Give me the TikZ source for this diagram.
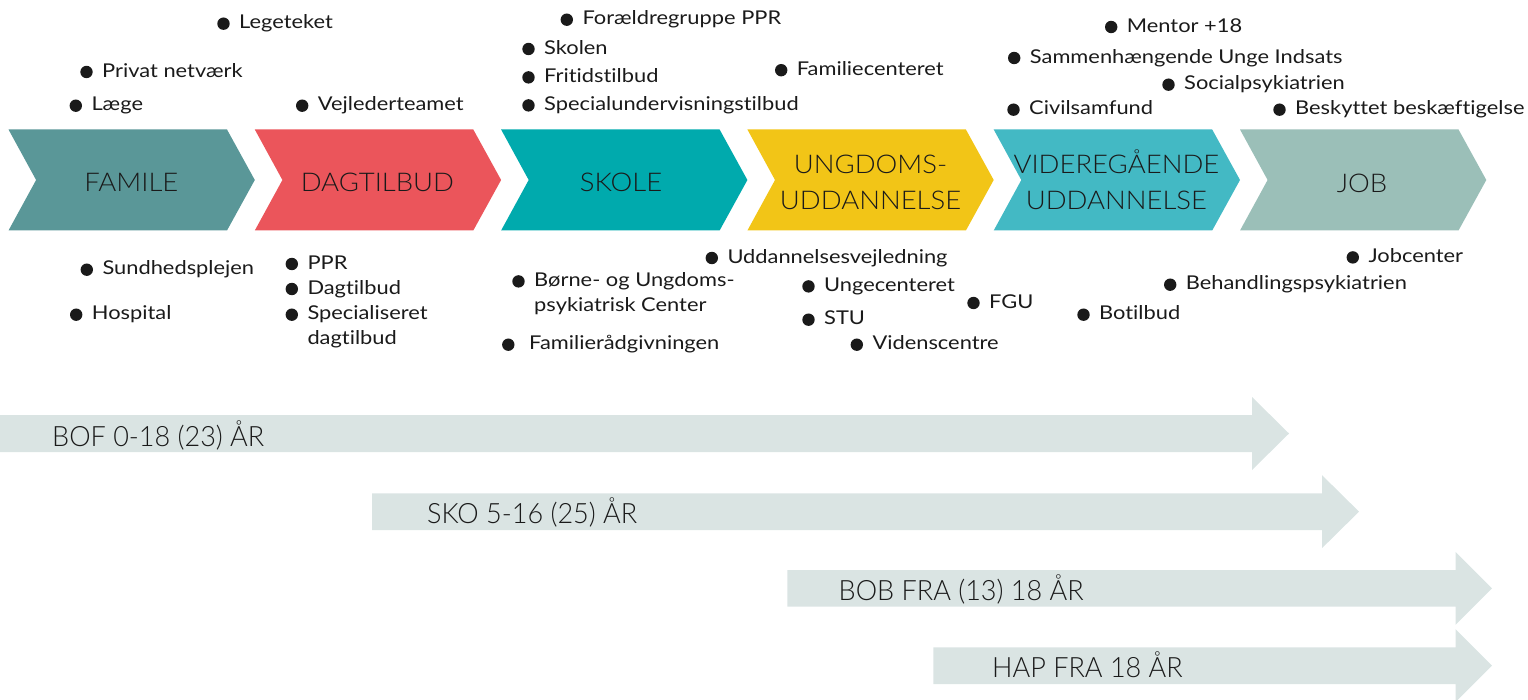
\documentclass[tikz,border=0pt]{standalone}
\usepackage{fontspec}
\setmainfont{Lato}
\newfontfamily\itemfam[FakeStretch=1.15,Ligatures=NoCommon]{Lato}
\newfontfamily\stagefam[FakeStretch=1.065,Ligatures=NoCommon]{Lato Light}
\newfontfamily\barfam[FakeStretch=0.965,Ligatures=NoCommon]{Lato Light}
\definecolor{ink}{HTML}{1A1A1A}
\definecolor{cfam}{HTML}{5A9798}
\definecolor{cdag}{HTML}{EB555B}
\definecolor{csko}{HTML}{00AAAD}
\definecolor{cung}{HTML}{F2C517}
\definecolor{cvid}{HTML}{43B9C4}
\definecolor{cjob}{HTML}{9BBFB8}
\definecolor{cbar}{HTML}{DAE4E3}
\newcommand\itemfont{\itemfam\fontsize{19}{24.5}\selectfont}
\newcommand\stagefont{\stagefam\fontsize{25.8}{36}\selectfont}
\newcommand\barfont{\barfam\fontsize{28}{34}\selectfont}
\newcommand\chevron[2]{\fill[#2] (#1,129.5) -- ++(218.5,0) -- ++(27.8,50.5) -- ++(-27.8,50.5) -- ++(-218.5,0) -- ++(27.6,-50.5) -- cycle;}
% name, text x, baseline, text
\newcommand\bitem[4]{%
  \node[dot] (#1d) at ({#2-16.5},{#3-5.3}) {};
  \node[itm] (#1) at ({#2-1},#3) {#4};}
\newcommand\bitemgap[5]{%
  \node[dot] (#1d) at ({#5},{#3-5.3}) {};
  \node[itm] (#1) at ({#2-1},#3) {#4};}
\newcommand\bararrow[5]{% left, right(head start), top, bottom, tip
  \fill[cbar] (#1,#3) -- (#2,#3) -- (#2,{(#3+#4)/2-36.5}) -- (#5,{(#3+#4)/2}) -- (#2,{(#3+#4)/2+36.5}) -- (#2,#4) -- (#1,#4) -- cycle;}
\begin{document}
\begin{tikzpicture}[x=1pt,y=-1pt,
  dot/.style={circle,fill=ink,inner sep=0pt,minimum size=12.4pt},
  itm/.style={anchor=base west,inner sep=0pt,font=\itemfont,text=ink},
  stagelabel/.style={font=\stagefont,text=ink,align=center,inner sep=0pt},
  barlabel/.style={anchor=base west,inner sep=0pt,font=\barfont,text=ink}]
\useasboundingbox (0,0) rectangle (1528,700);

% stages
\chevron{8.5}{cfam}
\chevron{254.8}{cdag}
\chevron{501.1}{csko}
\chevron{747.4}{cung}
\chevron{993.7}{cvid}
\chevron{1240}{cjob}
\node[stagelabel] (famile) at (131.4,182.5) {FAMILE};
\node[stagelabel] (dagtilbud) at (377.4,182.5) {DAGTILBUD};
\node[stagelabel] (skole) at (621,182.5) {SKOLE};
\node[stagelabel] (ungdoms) at (870.6,182.2) {UNGDOMS-\\UDDANNELSE};
\node[stagelabel] (videre) at (1116.4,180) {VIDEREGÅENDE\\UDDANNELSE};
\node[stagelabel] (job) at (1362,183) {JOB};

% top items
\bitem{legeteket}{240}{29}{Legeteket}
\bitem{privat}{103}{77.3}{Privat netværk}
\bitem{laege}{92.3}{111}{Læge}
\bitem{vejleder}{318.7}{111}{Vejlederteamet}
\bitem{foraeldre}{583.3}{25}{Forældregruppe PPR}
\bitem{skolen}{545}{54.3}{Skolen}
\bitem{fritid}{545}{82.7}{Fritidstilbud}
\bitem{specialund}{545}{110.7}{Specialundervisningstilbud}
\bitem{familiecenter}{797.7}{75.5}{Familiecenteret}
\bitem{mentor}{1127.7}{32.3}{Mentor +18}
\bitem{sammen}{1030.7}{63.3}{Sammenhængende Unge Indsats}
\bitem{socialpsyk}{1185}{90}{Socialpsykiatrien}
\bitem{civil}{1030}{115}{Civilsamfund}
\bitem{beskyttet}{1296}{115}{Beskyttet beskæftigelse}

% bottom items
\bitem{sundhed}{103.3}{275}{Sundhedsplejen}
\bitem{hospital}{92.7}{320}{Hospital}
\bitem{ppr}{308.3}{269.3}{PPR}
\bitem{dagtilb}{308.3}{294.3}{Dagtilbud}
\bitem{specialiseret}{308.3}{320}{\vtop{\baselineskip=24.5pt\hbox{Specialiseret}\hbox{dagtilbud}}}
\bitem{uddvejl}{728.3}{263.3}{Uddannelsesvejledning}
\bitem{boerne}{535}{286.7}{\vtop{\baselineskip=25pt\hbox{Børne- og Ungdoms-}\hbox{psykiatrisk Center}}}
\bitemgap{familieraad}{530}{350}{Familierådgivningen}{508.3}
\bitem{ungecenter}{825}{291.7}{Ungecenteret}
\bitem{stu}{825}{325}{STU}
\bitem{videns}{873.3}{350}{Videnscentre}
\bitem{fgu}{990}{308.3}{FGU}
\bitem{botilbud}{1100}{320}{Botilbud}
\bitem{behandling}{1186.7}{290}{Behandlingspsykiatrien}
\bitem{jobcenter}{1369.3}{262.7}{Jobcenter}

% age-span arrows
\bararrow{0}{1252}{415}{452}{1289}
\bararrow{372}{1322}{493.3}{530}{1359}
\bararrow{787.3}{1455.5}{570}{606.7}{1492}
\bararrow{933.3}{1455.5}{647.3}{684}{1492}
\node[barlabel] (bof) at (52,446.7) {BOF 0-18 (23) ÅR};
\node[barlabel] (sko) at (427,523.3) {SKO 5-16 (25) ÅR};
\node[barlabel] (bob) at (838.5,600) {BOB FRA (13) 18 ÅR};
\node[barlabel] (hap) at (992,677.7) {HAP FRA 18 ÅR};
\end{tikzpicture}
\end{document}
